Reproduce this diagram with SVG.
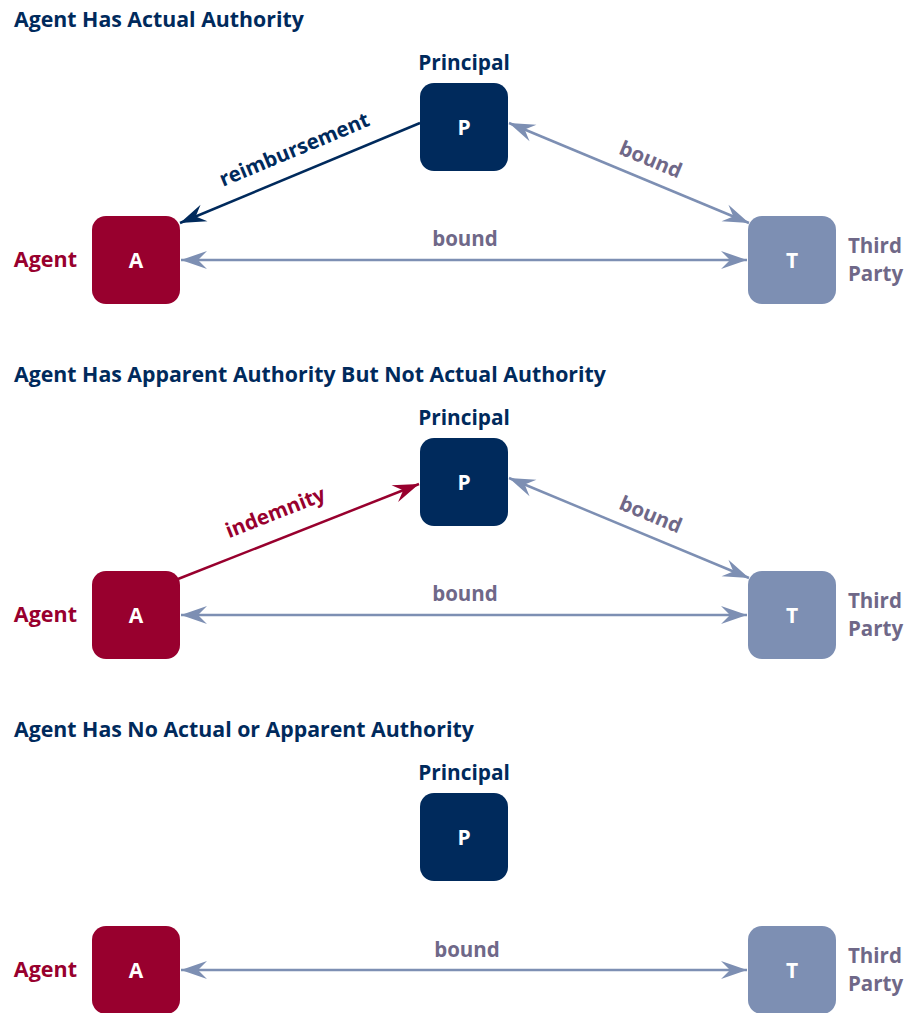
<svg xmlns="http://www.w3.org/2000/svg" width="908" height="1013" viewBox="0 0 908 1013">
  <style>
    text { font-family: "Open Sans", "Liberation Sans", sans-serif; font-weight: 700; }
    .title { font-size: 21.3px; fill: #002a5c; }
    .principal { font-size: 20.8px; fill: #002a5c; text-anchor: middle; }
    .agent { font-size: 21.5px; fill: #98002e; text-anchor: end; }
    .third { font-size: 20.5px; fill: #6f6888; }
    .lbl { font-size: 20.5px; fill: #6f6888; text-anchor: middle; }
    .lbl-navy { font-size: 20.5px; fill: #002a5c; text-anchor: middle; }
    .lbl-red { font-size: 20.5px; fill: #98002e; text-anchor: middle; }
    .boxtxt { font-size: 21px; fill: #ffffff; text-anchor: middle; }
    .p { fill: #002a5c; }
    .a { fill: #98002e; }
    .t { fill: #7d8fb3; }
    .bound { stroke: #7d8fb3; stroke-width: 2.5; fill: none; marker-start: url(#ah-slate); marker-end: url(#ah-slate); }
    .reimb { stroke: #002a5c; stroke-width: 2.5; fill: none; marker-end: url(#ah-navy); }
    .indem { stroke: #98002e; stroke-width: 2.5; fill: none; marker-end: url(#ah-red); }
  </style>
  <defs>
    <marker id="ah-slate" viewBox="-27 -10 28 20" refX="0" refY="0" markerWidth="28" markerHeight="20" markerUnits="userSpaceOnUse" orient="auto-start-reverse">
      <path d="M0,0 L-26,-9 L-17,0 L-26,9 Z" fill="#7d8fb3"/>
    </marker>
    <marker id="ah-navy" viewBox="-27 -10 28 20" refX="0" refY="0" markerWidth="28" markerHeight="20" markerUnits="userSpaceOnUse" orient="auto-start-reverse">
      <path d="M0,0 L-26,-9 L-17,0 L-26,9 Z" fill="#002a5c"/>
    </marker>
    <marker id="ah-red" viewBox="-27 -10 28 20" refX="0" refY="0" markerWidth="28" markerHeight="20" markerUnits="userSpaceOnUse" orient="auto-start-reverse">
      <path d="M0,0 L-26,-9 L-17,0 L-26,9 Z" fill="#98002e"/>
    </marker>
  </defs>

  <!-- Section 1: actual authority -->
  <text class="title" x="14" y="27">Agent Has Actual Authority</text>
  <g id="connectors-1">
    <line class="reimb" x1="420" y1="123" x2="180" y2="223"/>
    <line class="bound" x1="509" y1="123" x2="749" y2="223"/>
    <line class="bound" x1="181" y1="260" x2="747" y2="260"/>
    <text class="lbl-navy" transform="translate(297,156) rotate(-22.6)">reimbursement</text>
    <text class="lbl" transform="translate(648,166) rotate(22.6)">bound</text>
    <text class="lbl" x="465" y="246">bound</text>
  </g>
  <g id="principal-1">
    <text class="principal" x="464" y="70">Principal</text>
    <rect class="p" x="420" y="83" width="88" height="88" rx="14"/>
    <text class="boxtxt" x="464" y="135">P</text>
  </g>
  <g id="agent-1">
    <text class="agent" x="77" y="267">Agent</text>
    <rect class="a" x="92" y="216" width="88" height="88" rx="14"/>
    <text class="boxtxt" x="136" y="268">A</text>
  </g>
  <g id="third-1">
    <rect class="t" x="748" y="216" width="88" height="88" rx="14"/>
    <text class="boxtxt" x="792" y="268">T</text>
    <text class="third" x="848" y="253">Third</text>
    <text class="third" x="848" y="281">Party</text>
  </g>

  <!-- Section 2: apparent but not actual authority -->
  <text class="title" x="14" y="382">Agent Has Apparent Authority But Not Actual Authority</text>
  <g id="connectors-2">
    <line class="indem" x1="178" y1="579" x2="419" y2="484"/>
    <line class="bound" x1="509" y1="478" x2="749" y2="578"/>
    <line class="bound" x1="181" y1="615" x2="747" y2="615"/>
    <text class="lbl-red" transform="translate(278,519) rotate(-21.5)">indemnity</text>
    <text class="lbl" transform="translate(648,521) rotate(22.6)">bound</text>
    <text class="lbl" x="465" y="601">bound</text>
  </g>
  <g id="principal-2">
    <text class="principal" x="464" y="425">Principal</text>
    <rect class="p" x="420" y="438" width="88" height="88" rx="14"/>
    <text class="boxtxt" x="464" y="490">P</text>
  </g>
  <g id="agent-2">
    <text class="agent" x="77" y="622">Agent</text>
    <rect class="a" x="92" y="571" width="88" height="88" rx="14"/>
    <text class="boxtxt" x="136" y="623">A</text>
  </g>
  <g id="third-2">
    <rect class="t" x="748" y="571" width="88" height="88" rx="14"/>
    <text class="boxtxt" x="792" y="623">T</text>
    <text class="third" x="848" y="608">Third</text>
    <text class="third" x="848" y="636">Party</text>
  </g>

  <!-- Section 3: no authority -->
  <text class="title" x="14" y="737">Agent Has No Actual or Apparent Authority</text>
  <g id="connectors-3">
    <line class="bound" x1="181" y1="970" x2="747" y2="970"/>
    <text class="lbl" x="467" y="957">bound</text>
  </g>
  <g id="principal-3">
    <text class="principal" x="464" y="780">Principal</text>
    <rect class="p" x="420" y="793" width="88" height="88" rx="14"/>
    <text class="boxtxt" x="464" y="845">P</text>
  </g>
  <g id="agent-3">
    <text class="agent" x="77" y="977">Agent</text>
    <rect class="a" x="92" y="926" width="88" height="88" rx="14"/>
    <text class="boxtxt" x="136" y="978">A</text>
  </g>
  <g id="third-3">
    <rect class="t" x="748" y="926" width="88" height="88" rx="14"/>
    <text class="boxtxt" x="792" y="978">T</text>
    <text class="third" x="848" y="963">Third</text>
    <text class="third" x="848" y="991">Party</text>
  </g>
</svg>
